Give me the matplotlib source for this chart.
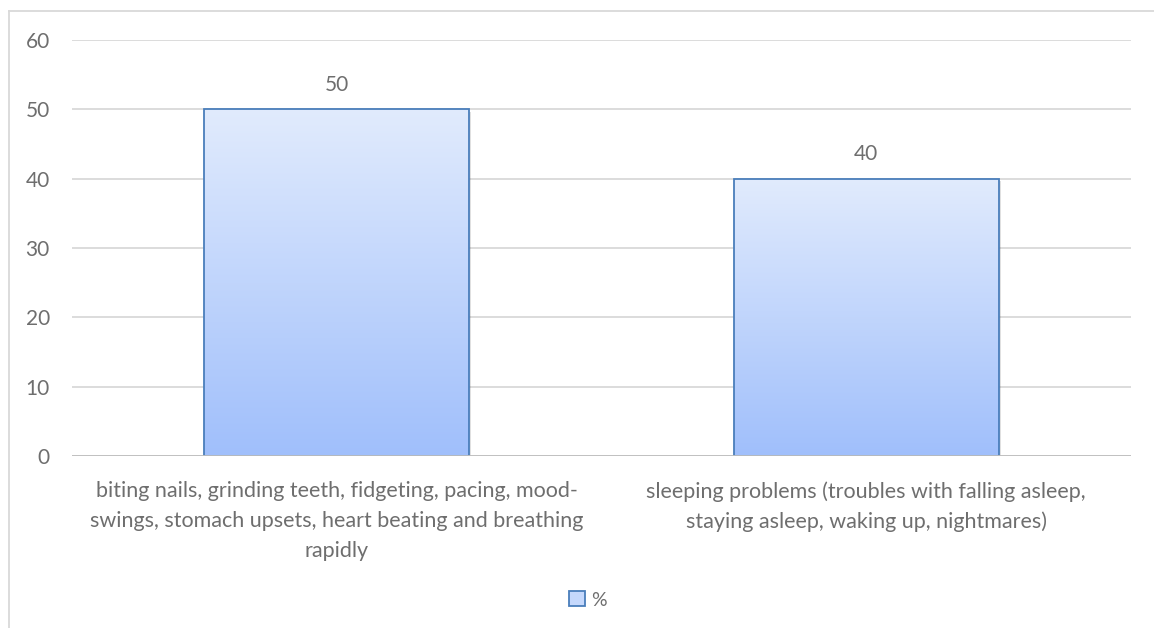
import numpy as np
import matplotlib
matplotlib.use("Agg")
import matplotlib.pyplot as plt
from matplotlib.patches import Rectangle
from matplotlib.lines import Line2D

categories = [
    "biting nails, grinding teeth, fidgeting, pacing, mood-\nswings, stomach upsets, heart beating and breathing\nrapidly",
    "sleeping problems (troubles with falling asleep,\nstaying asleep, waking up, nightmares)",
]
values = [50, 40]
series_name = "%"
yticks = [0, 10, 20, 30, 40, 50, 60]

plt.rcParams["font.family"] = ["Lato", "DejaVu Sans"]
TXT = "#6E6E6E"
W, H = 1154, 628
fig = plt.figure(figsize=(W / 100, H / 100), dpi=100)
ax = fig.add_axes([72 / W, 1 - 456 / H, (1131 - 72) / W, (456 - 40) / H])

ax.set_xlim(-0.5, len(values) - 0.5)
ax.set_ylim(0, 60)

# gradient fill clipped to each bar
grad = np.linspace(0, 1, 256).reshape(-1, 1)
top_c = np.array([0xE1, 0xEB, 0xFD]) / 255
bot_c = np.array([0xA0, 0xBF, 0xFB]) / 255
img = (bot_c[None, None, :] * (1 - grad[..., None]) + top_c[None, None, :] * grad[..., None])
for i, v in enumerate(values):
    x0, w = i - 0.25, 0.5
    # faint shadow
    ax.add_patch(Rectangle((x0 + 0.004, -0.4), w, v, fc="#000000", alpha=0.12,
                           ec="none", zorder=2))
    im = ax.imshow(img, extent=(x0, x0 + w, 0, v), origin="lower", aspect="auto", zorder=3)
    rect = Rectangle((x0, 0), w, v, fc="none", ec="#4A7EBB", lw=1.3, zorder=4)
    ax.add_patch(rect)
    im.set_clip_path(rect)
    ax.text(i, v + 3.5, f"{v}", ha="center", va="center", fontsize=15, color=TXT)

ax.set_yticks(yticks)
ax.yaxis.grid(True, color="#D9D9D9", lw=1.3)
ax.set_axisbelow(True)
for sp in ax.spines.values():
    sp.set_visible(False)
ax.axhline(0, color="#BFBFBF", lw=1.3, zorder=5)
ax.tick_params(axis="y", length=0, labelsize=15, labelcolor=TXT, pad=16)
ax.set_xticks(range(len(values)))
ax.set_xticklabels(categories, fontsize=15.5, color=TXT, linespacing=1.62)
ax.tick_params(axis="x", length=0, pad=18)

handle = Rectangle((0, 0), 1, 1, fc="#C5D8FC", ec="#4A7EBB", lw=1.3)
fig.legend([handle], [series_name], loc="center", bbox_to_anchor=(588 / W, 1 - 600 / H),
           frameon=False, fontsize=14, labelcolor=TXT, handlelength=0.8,
           handleheight=0.8, handletextpad=0.3)

# chart frame (left and top edges visible)
fig.add_artist(Line2D([8.5 / W, 8.5 / W], [0, 1 - 10.5 / H], color="#D9D9D9", lw=1.3))
fig.add_artist(Line2D([8.5 / W, 1], [1 - 10.5 / H, 1 - 10.5 / H], color="#D9D9D9", lw=1.3))

fig.savefig("out.png", dpi=100)
